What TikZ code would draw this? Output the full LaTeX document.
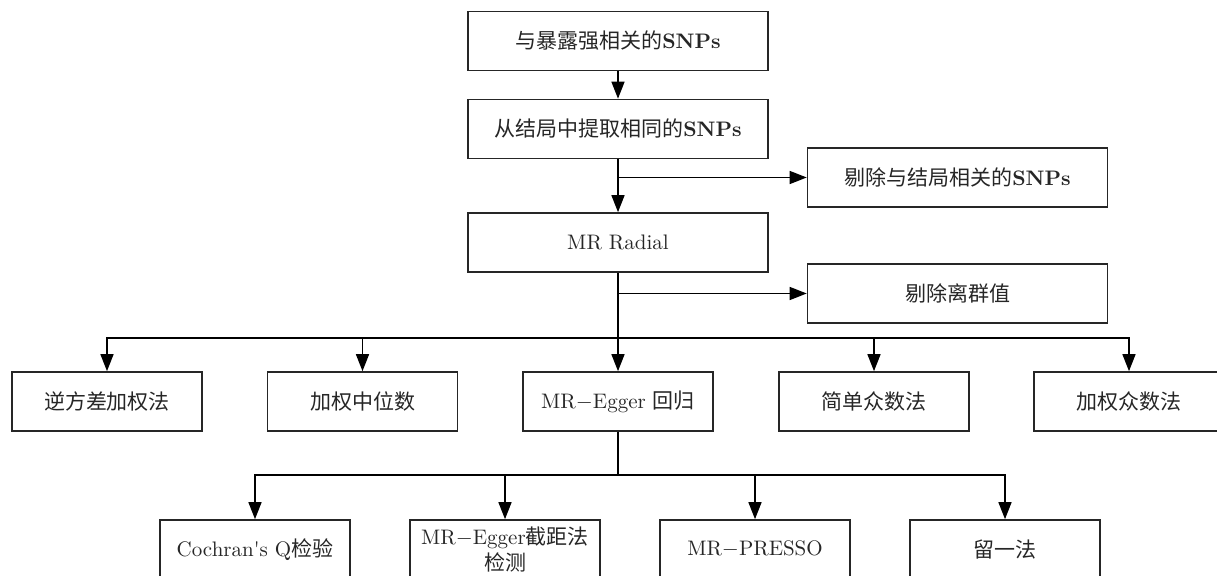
\documentclass[tikz,border=0pt]{standalone}
\usepackage{fontspec}
\newfontfamily\cjk{Noto Sans CJK SC}
\usetikzlibrary{arrows.meta,calc}
\newcommand{\mrdash}{\ensuremath{-}}
\newcommand{\snps}{{\bfseries SNPs}}
\begin{document}
\begin{tikzpicture}[x=0.5pt,y=-0.5pt,
  box/.style={draw=black!85,line width=0.8pt,rectangle,minimum width=150pt,minimum height=29.5pt,inner sep=0pt,align=center,text=black!85,font=\fontsize{10.5}{14}\selectfont},
  sbox/.style={box,minimum width=95pt},
  conn/.style={draw=black,line width=0.7pt},
  arr/.style={conn,-{Triangle[length=8.5pt,width=6.5pt]}}
]
\useasboundingbox (0,0) rectangle (1217,576);
% main column
\node[box] (n1) at (618,41) {{\cjk 与暴露强相关的}\snps};
\node[box] (n2) at (618,129) {{\cjk 从结局中提取相同的}\snps};
\node[box] (r1) at (957.5,177.5) {{\cjk 剔除与结局相关的}\snps};
\node[box] (n3) at (618,242.5) {MR Radial};
\node[box] (r2) at (957.5,293.5) {\cjk 剔除离群值};
% methods row
\node[sbox] (a1) at (107,401.5) {\cjk 逆方差加权法};
\node[sbox] (a2) at (362.5,401.5) {\cjk 加权中位数};
\node[sbox] (a3) at (618,401.5) {MR\mrdash Egger {\cjk 回归}};
\node[sbox] (a4) at (874,401.5) {\cjk 简单众数法};
\node[sbox] (a5) at (1129,401.5) {\cjk 加权众数法};
% sensitivity row
\node[sbox] (b1) at (255,549.5) {Cochran\textquotesingle s Q{\cjk 检验}};
\node[sbox] (b2) at (505,549.5) {MR\mrdash Egger{\cjk 截距法}\\[-1pt]{\cjk 检测}};
\node[sbox] (b3) at (755,549.5) {MR\mrdash PRESSO};
\node[sbox] (b4) at (1005,549.5) {\cjk 留一法};
% coordinates
\coordinate (bus1) at (618,338);
\coordinate (bus2) at (618,475);
% connectors
\draw[arr] (n1.south) -- (n2.north);
\draw[arr] (n2.south) -- (n3.north);
\draw[arr] (n2.south |- r1.west) -- (r1.west);
\draw[arr] (n3.south) -- (a3.north);
\draw[arr] (n3.south |- r2.west) -- (r2.west);
\draw[arr] (bus1) -| (a1.north);
\draw[arr] (bus1) -| (a2.north);
\draw[arr] (bus1) -| (a4.north);
\draw[arr] (bus1) -| (a5.north);
\draw[conn] (a3.south) -- (bus2);
\draw[arr] (bus2) -| (b1.north);
\draw[arr] (bus2) -| (b2.north);
\draw[arr] (bus2) -| (b3.north);
\draw[arr] (bus2) -| (b4.north);
\end{tikzpicture}
\end{document}
